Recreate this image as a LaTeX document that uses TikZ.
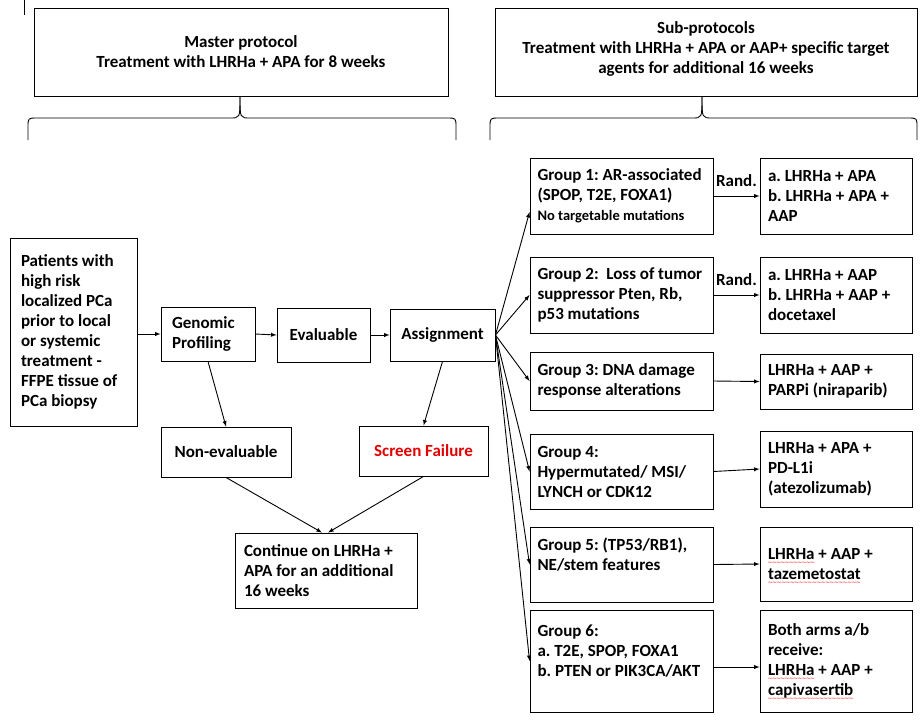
\documentclass[tikz,border=0pt]{standalone}
\usepackage{fontspec}
\setmainfont{Carlito}
\newfontfamily\wavefont{DejaVu Sans}
\usetikzlibrary{arrows}
\definecolor{failred}{RGB}{228,0,0}
\tikzset{
    box/.style={draw, inner ysep=0pt},
    lbox/.style={box, align=left},
    cbox/.style={box, align=center},
    grp/.style={lbox, text width=168pt, inner xsep=7.5pt},
    res/.style={lbox, text width=136pt, inner xsep=8pt},
}
\newcommand{\spell}[1]{\leavevmode\setbox0\hbox{#1}\rlap{\smash{\lower4.6pt\hbox to\wd0{\color{red}\wavefont\mdseries\fontsize{6}{6}\selectfont\xleaders\hbox{\kern-0.4pt\char"223C\kern-0.4pt}\hfil}}}#1}

\begin{document}
\begin{tikzpicture}[x=1pt, y=-1pt, >=latex, line width=0.9pt, font=\bfseries\fontsize{17}{20}\selectfont,
    execute at begin node={\spaceskip=0pt\xspaceskip=0pt\frenchspacing\hyphenpenalty=10000}]
    \useasboundingbox (0,0) rectangle (923,721);
    \draw (24,0) -- (24,15);
    \node[cbox, minimum width=414pt, minimum height=88pt](master) at (241,52) {Master protocol\\Treatment with LHRHa + APA for 8 weeks};
    \node[cbox, minimum width=422pt, minimum height=88pt](sub) at (706,52) {Sub-protocols\\Treatment with LHRHa + APA or AAP+ specific target\\agents for additional 16 weeks\\[-12pt]\mbox{}};
    \foreach \l/\m/\r in {28/240/456, 490/702/917}{
        \draw (\l,140) -- (\l,127) .. controls (\l,118) .. (\l+9,118) -- (\m-10,118) .. controls (\m,118) .. (\m,97);
        \draw (\m,97) .. controls (\m,118) .. (\m+10,118) -- (\r-9,118) .. controls (\r,118) .. (\r,127) -- (\r,140);
    }

    \node[lbox, text width=105pt, minimum height=188pt, inner xsep=11pt](pat) at (73.5,332) {Patients with\\high risk\\localized PCa\\prior to local\\or systemic\\treatment -\\FFPE tissue of\\PCa biopsy};
    \node[lbox, text width=72pt, minimum height=54pt, inner xsep=11pt](gen) at (208,334) {Genomic\\Profiling};
    \node[cbox, minimum width=93pt, minimum height=54pt](eval) at (323.5,335) {Evaluable};
    \node[cbox, minimum width=105pt, minimum height=52pt](asg) at (442.5,335) {Assignment};
    \node[cbox, minimum width=130pt, minimum height=50pt](noneval) at (226,452) {Non-evaluable};
    \node[cbox, minimum width=129pt, minimum height=50pt, text=failred](fail) at (423.5,451) {Screen Failure};
    \node[lbox, text width=164pt, minimum height=75pt, inner xsep=9pt](cont) at (326,570.5) {Continue on LHRHa +\\APA for an additional\\16 weeks};

    \node[grp, minimum height=76pt](g1) at (621.5,196) {Group 1: AR-associated\\(SPOP, T2E, FOXA1)\\{\fontsize{14.5}{19}\selectfont No targetable mutations}};
    \node[grp, minimum height=76pt](g2) at (621.5,295) {Group 2:\ \ Loss of tumor\\suppressor Pten, Rb,\\p53 mutations};
    \node[grp, minimum height=58pt](g3) at (621.5,381) {Group 3: DNA damage\\response alterations};
    \node[grp, minimum height=75pt](g4) at (621.5,471.5) {Group 4:\\Hypermutated/ MSI/\\LYNCH or CDK12};
    \node[grp, minimum height=75pt](g5) at (621.5,564.5) {Group 5: (TP53/RB1),\\NE/stem features\\\mbox{}};
    \node[grp, minimum height=102pt](g6) at (621.5,661) {Group 6:\\a. T2E, SPOP, FOXA1\\b. PTEN or PIK3CA/AKT\\\mbox{}};

    \node[res, minimum height=76pt](r1) at (836,196) {a. LHRHa + APA\\b. LHRHa + APA +\\AAP};
    \node[res, minimum height=76pt](r2) at (836,295) {a. LHRHa + AAP\\b. LHRHa + AAP +\\docetaxel};
    \node[res, minimum height=55pt](r3) at (836,381.5) {LHRHa + AAP +\\PARPi~(niraparib)};
    \node[res, minimum height=76pt](r4) at (836,469) {LHRHa + APA +\\PD-L1i\\(atezolizumab)};
    \node[res, minimum height=74pt](r5) at (836,564) {\spell{LHRHa} + AAP +\\\spell{tazemetostat}};
    \node[res, minimum height=102pt](r6) at (836,661) {Both arms a/b\\receive:\\\spell{LHRHa} + AAP +\\\spell{capivasertib}};

    \path
        (pat.east |- gen.west) edge [->] (gen.west)
        (gen.east) edge [->] (eval.west)
        (eval.east) edge [->] (asg.west)
        (gen.south) edge [->] (noneval.north)
        (asg.south) edge [->] (fail.north)
        (noneval.south) edge [->] ([xshift=-4pt]cont.north)
        (fail.south) edge [->] ([xshift=2pt]cont.north)
        (asg.east)
            edge [->] ([yshift=-16pt]g1.west)
            edge [->] (g2.west)
            edge [->] (g3.west)
            edge [->] (g4.west)
            edge [->] (g5.west)
            edge [->] (g6.west)
        (g1.east) edge [->] node[above=6pt] {Rand.} (r1.west)
        (g2.east) edge [->] node[above=6pt] {Rand.} (r2.west)
        (g3.east) edge [->] (r3.west)
        (g4.east) edge [->] (r4.west)
        (g5.east) edge [->] (r5.west)
        ([yshift=-6pt]g6.east) edge [->] ([yshift=-6pt]r6.west)
        ;
\end{tikzpicture}
\end{document}
